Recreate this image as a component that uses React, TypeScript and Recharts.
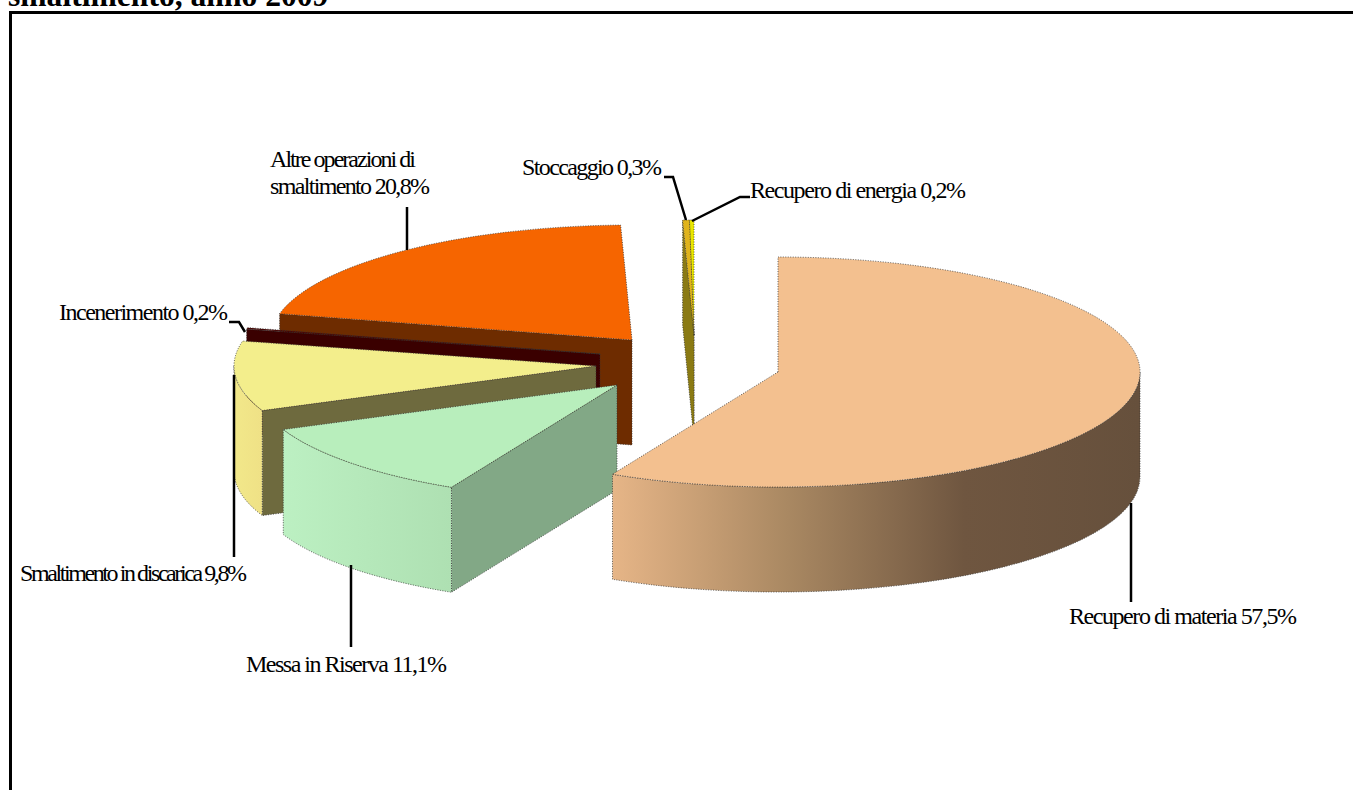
import React from "react";
import { PieChart, Pie } from "recharts";

// clockwise from 12 o'clock in the reference; reversed here so the front slices paint last
const categories = [
  "Recupero di energia",
  "Stoccaggio",
  "Altre operazioni di smaltimento",
  "Incenerimento",
  "Smaltimento in discarica",
  "Messa in Riserva",
  "Recupero di materia",
];
const shares = [0.2, 0.3, 20.8, 0.2, 9.8, 11.1, 57.5];

const data = categories.map((name, i) => ({ name, value: shares[i] }));

const RX = 362;
const RY = 115;
const DEPTH = 105;

interface SliceStyle {
  dx: number;
  dy: number;
  top: string;
  wall: string;
  rim: string[];
}

const sliceStyles: Record<string, SliceStyle> = {
  "Recupero di energia": { dx: -84, dy: -37, top: "#e9e600", wall: "#9a9410", rim: ["#e0dc00", "#c8c400"] },
  Stoccaggio: { dx: -84, dy: -37, top: "#e0b41c", wall: "#8a7a14", rim: ["#d0a818", "#b89414"] },
  "Altre operazioni di smaltimento": { dx: -146, dy: -32, top: "#f66500", wall: "#6e2c00", rim: ["#f06000", "#d05000"] },
  Incenerimento: { dx: -178, dy: -18, top: "#4a0200", wall: "#3a0000", rim: ["#4a0400", "#3a0000"] },
  "Smaltimento in discarica": { dx: -182, dy: -6, top: "#f3ee8c", wall: "#6e6a3e", rim: ["#f2e88a", "#efe186"] },
  "Messa in Riserva": { dx: -161, dy: 13, top: "#b8eebc", wall: "#82a886", rim: ["#bcf0c2", "#aee0b2"] },
  "Recupero di materia": { dx: 0, dy: 0, top: "#f3c08f", wall: "#8a6a48", rim: ["#e6b587", "#a98862", "#6f5640", "#66503c"] },
};

interface LabelLayout {
  lines: string[];
  widths: number[];
  x: number;
  y: number;
  leader: number[][];
}

const labelLayouts: Record<string, LabelLayout> = {
  "Recupero di energia": {
    lines: ["Recupero di energia 0,2%"],
    widths: [216],
    x: 750,
    y: 198,
    leader: [[750, 197], [740, 197], [692, 221]],
  },
  Stoccaggio: {
    lines: ["Stoccaggio 0,3%"],
    widths: [140],
    x: 522,
    y: 175,
    leader: [[664, 177], [673, 177], [686, 220]],
  },
  "Altre operazioni di smaltimento": {
    lines: ["Altre operazioni di", "smaltimento 20,8%"],
    widths: [146, 160],
    x: 270,
    y: 167,
    leader: [[407, 207], [407, 250]],
  },
  Incenerimento: {
    lines: ["Incenerimento 0,2%"],
    widths: [169],
    x: 59,
    y: 320,
    leader: [[229, 322], [239, 322], [245, 332]],
  },
  "Smaltimento in discarica": {
    lines: ["Smaltimento in discarica 9,8%"],
    widths: [227],
    x: 20,
    y: 581,
    leader: [[234, 375], [234, 557]],
  },
  "Messa in Riserva": {
    lines: ["Messa in Riserva 11,1%"],
    widths: [201],
    x: 246,
    y: 672,
    leader: [[351, 565], [351, 647]],
  },
  "Recupero di materia": {
    lines: ["Recupero di materia 57,5%"],
    widths: [228],
    x: 1069,
    y: 624,
    leader: [[1131, 503], [1131, 602]],
  },
};

const EDGE = { stroke: "#333", strokeWidth: 0.8, strokeDasharray: "1 1.5" };

const SliceShape = (props: any) => {
  const { cx, cy, startAngle, endAngle, index, name } = props;
  const st = sliceStyles[name ?? data[index].name];
  const a0 = Math.min(startAngle, endAngle);
  const a1 = Math.max(startAngle, endAngle);
  const ox = cx + st.dx;
  const oy = cy + st.dy;

  const pt = (a: number, drop = 0): [number, number] => {
    const r = (a * Math.PI) / 180;
    return [ox + RX * Math.cos(r), oy - RY * Math.sin(r) + drop];
  };
  const [sx, sy] = pt(a0);
  const [ex, ey] = pt(a1);
  const large = a1 - a0 > 180 ? 1 : 0;
  const topPath = `M${ox},${oy} L${sx},${sy} A${RX},${RY} 0 ${large} 0 ${ex},${ey} Z`;

  // only the walls turned towards the viewer get painted
  const wallPath = (a: number) => {
    const [x, y] = pt(a);
    return `M${ox},${oy} L${x},${y} L${x},${y + DEPTH} L${ox},${oy + DEPTH} Z`;
  };
  const startVisible = Math.sin(((a0 - 90) * Math.PI) / 180) < 0;
  const endVisible = Math.sin(((a1 + 90) * Math.PI) / 180) < 0;

  // rim is only seen on the front half of the ellipse
  const rimFrom = Math.max(a0, 180);
  const rimTo = Math.min(a1, 360);
  let rimPath = "";
  if (rimTo > rimFrom) {
    const [x0, y0] = pt(rimFrom);
    const [x1, y1] = pt(rimTo);
    rimPath = `M${x0},${y0} A${RX},${RY} 0 0 0 ${x1},${y1} L${x1},${y1 + DEPTH} A${RX},${RY} 0 0 1 ${x0},${y0 + DEPTH} Z`;
  }
  const gradId = `rim-${index}`;

  return (
    <g>
      <defs>
        <linearGradient id={gradId} x1="0" y1="0" x2="1" y2="0">
          {st.rim.map((c, i) => (
            <stop key={i} offset={i / (st.rim.length - 1)} stopColor={c} />
          ))}
        </linearGradient>
      </defs>
      {startVisible && <path d={wallPath(a0)} fill={st.wall} {...EDGE} />}
      {endVisible && <path d={wallPath(a1)} fill={st.wall} {...EDGE} />}
      {rimPath && <path d={rimPath} fill={`url(#${gradId})`} {...EDGE} />}
      <path d={topPath} fill={st.top} {...EDGE} />
    </g>
  );
};

const SliceLabel = (props: any) => {
  const layout = labelLayouts[props.name ?? data[props.index].name];
  return (
    <g>
      <polyline
        points={layout.leader.map((p) => p.join(",")).join(" ")}
        fill="none"
        stroke="#000"
        strokeWidth={2.5}
      />
      {layout.lines.map((line, i) => (
        <text
          key={i}
          x={layout.x}
          y={layout.y + i * 27}
          fill="#000"
          fontFamily="'Liberation Serif', serif"
          fontSize={24}
          textLength={layout.widths[i]}
          lengthAdjust="spacing"
        >
          {line}
        </text>
      ))}
    </g>
  );
};

const App: React.FC = () => {
  return (
    <div style={{ position: "absolute", left: 0, top: 0, width: 1353, height: 790, overflow: "hidden", background: "#fff" }}>
      <div
        style={{
          position: "absolute",
          left: 8,
          top: -18,
          fontFamily: "'Liberation Serif', serif",
          fontWeight: "bold",
          fontSize: 31.6,
          lineHeight: "27px",
          whiteSpace: "nowrap",
        }}
      >
        smaltimento, anno 2009
      </div>
      <div
        style={{
          position: "absolute",
          left: 9,
          top: 11,
          width: 1400,
          height: 800,
          borderLeft: "3px solid #000",
          borderTop: "3px solid #000",
        }}
      />
      <div style={{ position: "absolute", left: 0, top: 0 }}>
        <PieChart width={1353} height={790} margin={{ top: 0, right: 0, bottom: 0, left: 0 }}>
          <Pie
            data={data}
            dataKey="value"
            nameKey="name"
            cx={778}
            cy={372}
            innerRadius={0}
            outerRadius={RX}
            startAngle={90}
            endAngle={450}
            shape={SliceShape}
            label={SliceLabel}
            labelLine={false}
            isAnimationActive={false}
          />
        </PieChart>
      </div>
    </div>
  );
};

export default App;
